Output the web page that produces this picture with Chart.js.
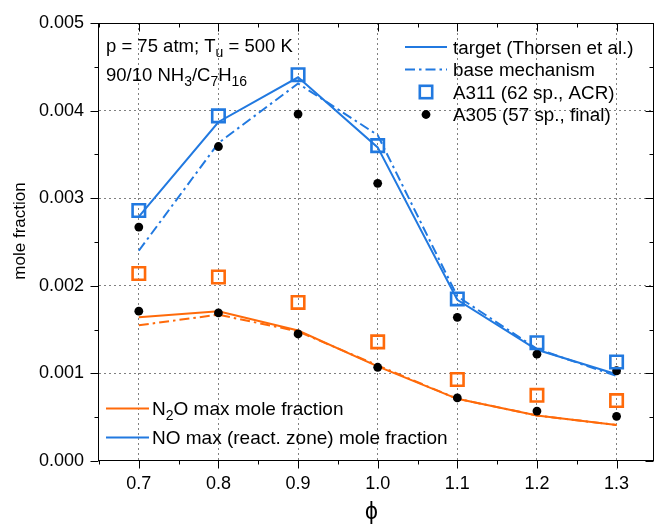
<!DOCTYPE html>
<html>
<head>
<meta charset="utf-8">
<script src="https://cdn.jsdelivr.net/npm/chart.js@4.4.1/dist/chart.umd.min.js"></script>
<style>
  html, body { margin: 0; padding: 0; background: #fff; }
  #wrap { width: 655px; height: 524px; }
</style>
</head>
<body>
<div id="wrap"><canvas id="c" width="655" height="524"></canvas></div>
<script>
// Equivalence ratio
const phi = [0.7, 0.8, 0.9, 1.0, 1.1, 1.2, 1.3];

// NO max (reaction zone) mole fraction
const noTarget = [0.00279, 0.00387, 0.00438, 0.00358, 0.00184, 0.00127, 0.00099];
const noBase   = [0.00240, 0.00363, 0.00431, 0.00372, 0.00188, 0.00128, 0.00097];
const noA311   = [0.00286, 0.00394, 0.00441, 0.00360, 0.00185, 0.00135, 0.00113];
const noA305   = [0.00267, 0.00359, 0.00396, 0.00317, 0.00164, 0.00122, 0.00103];

// N2O max mole fraction
const n2oTarget = [0.00164, 0.00171, 0.00149, 0.00108, 0.00071, 0.00052, 0.00041];
const n2oBase   = [0.00155, 0.00167, 0.00148, 0.00109, 0.00071, 0.00052, 0.00041];
const n2oA311   = [0.00214, 0.00210, 0.00181, 0.00136, 0.00093, 0.00075, 0.00069];
const n2oA305   = [0.00171, 0.00169, 0.00145, 0.00107, 0.00072, 0.00057, 0.00051];

// Axis ticks (major ticks carry labels, minor ticks sit halfway between)
const xTickValues = [0.65, 0.7, 0.75, 0.8, 0.85, 0.9, 0.95, 1.0, 1.05, 1.1, 1.15, 1.2, 1.25, 1.3];
const xTickLabels = ['0.7', '0.8', '0.9', '1.0', '1.1', '1.2', '1.3'];
const yTickValues = [0, 0.0005, 0.001, 0.0015, 0.002, 0.0025, 0.003, 0.0035, 0.004, 0.0045, 0.005];
const yTickLabels = ['0.000', '0.001', '0.002', '0.003', '0.004', '0.005'];

const BLUE = '#2179e0';
const ORANGE = '#ff6a0a';
const FONT = "'Liberation Sans', Arial, sans-serif";
const DASHDOT = [10, 4, 2.5, 4];
const PLOT_RIGHT = 654;

const pts = ys => phi.map((x, i) => ({ x, y: ys[i] }));
const isMajorX = v => Math.abs(v * 10 - Math.round(v * 10)) < 1e-6;
const isMajorY = v => Math.abs(v * 1000 - Math.round(v * 1000)) < 1e-6;
const xLabelFor = v => { const i = xTickLabels.indexOf(v.toFixed(1)); return isMajorX(v) && i >= 0 ? xTickLabels[i] : ''; };
const yLabelFor = v => { const i = yTickLabels.indexOf(v.toFixed(3)); return isMajorY(v) && i >= 0 ? yTickLabels[i] : ''; };

const lineDs = (data, color, dash) => ({
  data: pts(data), showLine: true, borderColor: color, borderWidth: 2,
  borderDash: dash, pointRadius: 0, pointHoverRadius: 0, fill: false, tension: 0
});
const squareDs = (data, color) => ({
  data: pts(data), showLine: false, pointStyle: 'rect', pointRadius: 8.8,
  pointBorderWidth: 2.6, pointBorderColor: color, pointBackgroundColor: 'rgba(0,0,0,0)'
});
const dotDs = data => ({
  data: pts(data), showLine: false, pointStyle: 'circle', pointRadius: 4.4,
  pointBorderWidth: 0, pointBackgroundColor: '#000', pointBorderColor: '#000'
});

// Text with subscripts: parts = [[text, isSub], ...]
function richText(ctx, parts, x, baseline, size, subSize, subDrop) {
  let cx = x;
  ctx.textAlign = 'left';
  ctx.textBaseline = 'alphabetic';
  for (const [t, sub] of parts) {
    ctx.font = (sub ? subSize : size) + 'px ' + FONT;
    ctx.fillText(t, cx, baseline + (sub ? subDrop : 0));
    cx += ctx.measureText(t).width;
  }
}

// Stretch the plot area out to the right edge of the canvas
const widen = {
  id: 'widen',
  afterLayout(chart) {
    const a = chart.chartArea, xs = chart.scales.x;
    a.right = PLOT_RIGHT;
    a.width = a.right - a.left;
    xs.right = PLOT_RIGHT;
    xs.width = xs.right - xs.left;
    xs.configure();
  }
};

const decor = {
  id: 'decor',
  afterDraw(chart) {
    const { ctx, chartArea: a, scales } = chart;
    const xs = scales.x, ys = scales.y;
    ctx.save();
    ctx.fillStyle = '#000';
    ctx.strokeStyle = '#000';
    ctx.lineWidth = 1;
    ctx.setLineDash([]);

    // frame
    const L = Math.round(a.left) - 0.5, R = Math.round(a.right) - 0.5;
    const T = Math.round(a.top) + 0.5, B = Math.round(a.bottom) - 0.5;
    ctx.strokeRect(L, T, R - L, B - T);

    // ticks: outward on left/bottom, inward on right/top
    ctx.beginPath();
    for (const v of yTickValues) {
      const y = Math.round(ys.getPixelForValue(v)) + 0.5;
      const len = isMajorY(v) ? 8 : 4;
      ctx.moveTo(L - len, y); ctx.lineTo(L, y);
      ctx.moveTo(R - len, y); ctx.lineTo(R, y);
    }
    for (const v of xTickValues) {
      const x = Math.round(xs.getPixelForValue(v)) + 0.5;
      const len = isMajorX(v) ? 8 : 4;
      ctx.moveTo(x, B); ctx.lineTo(x, B + len);
      ctx.moveTo(x, T); ctx.lineTo(x, T + len);
    }
    ctx.stroke();

    // axis titles
    ctx.font = '17px ' + FONT;
    ctx.textAlign = 'center';
    ctx.textBaseline = 'middle';
    ctx.save();
    ctx.translate(20, 231);
    ctx.rotate(-Math.PI / 2);
    ctx.fillText('mole fraction', 0, 0);
    ctx.restore();
    ctx.font = '23px ' + FONT;
    ctx.fillText('\u03D5', 371.5, 513);

    // conditions
    richText(ctx, [['p = 75 atm; T', false], ['u', true], [' = 500 K', false]], 106, 52, 18.5, 14, 5);
    richText(ctx, [['90/10 NH', false], ['3', true], ['/C', false], ['7', true], ['H', false], ['16', true]], 106, 80.5, 18.5, 14, 5);

    // mechanism legend (upper right)
    const rows = [47, 69.5, 92, 114.5];
    ctx.strokeStyle = BLUE;
    ctx.lineWidth = 2;
    ctx.beginPath(); ctx.moveTo(405, rows[0]); ctx.lineTo(447, rows[0]); ctx.stroke();
    ctx.setLineDash(DASHDOT);
    ctx.beginPath(); ctx.moveTo(405, rows[1]); ctx.lineTo(447, rows[1]); ctx.stroke();
    ctx.setLineDash([]);
    ctx.lineWidth = 2.6;
    ctx.strokeRect(426 - 6.2, rows[2] - 6.2, 12.4, 12.4);
    ctx.beginPath(); ctx.arc(426, rows[3], 4.4, 0, Math.PI * 2); ctx.fill();
    ctx.fillStyle = '#000';
    const names = ['target (Thorsen et al.)', 'base mechanism', 'A311 (62 sp., ACR)', 'A305 (57 sp., final)'];
    names.forEach((n, i) => richText(ctx, [[n, false]], 453, rows[i] + 6.7, 18.8, 14, 5));

    // species legend (lower left)
    const rows2 = [408.5, 437.5];
    ctx.lineWidth = 2;
    ctx.strokeStyle = ORANGE;
    ctx.beginPath(); ctx.moveTo(106, rows2[0]); ctx.lineTo(149, rows2[0]); ctx.stroke();
    ctx.strokeStyle = BLUE;
    ctx.beginPath(); ctx.moveTo(106, rows2[1]); ctx.lineTo(149, rows2[1]); ctx.stroke();
    richText(ctx, [['N', false], ['2', true], ['O max mole fraction', false]], 152, rows2[0] + 6.8, 19, 14, 5);
    richText(ctx, [['NO max (react. zone) mole fraction', false]], 152, rows2[1] + 6.8, 19, 14, 5);

    ctx.restore();
  }
};

new Chart(document.getElementById('c'), {
  type: 'scatter',
  data: {
    datasets: [
      squareDs(noA311, BLUE),
      squareDs(n2oA311, ORANGE),
      dotDs(noA305),
      dotDs(n2oA305),
      lineDs(noBase, BLUE, DASHDOT),
      lineDs(n2oBase, ORANGE, DASHDOT),
      lineDs(noTarget, BLUE, []),
      lineDs(n2oTarget, ORANGE, [])
    ]
  },
  options: {
    responsive: false,
    animation: false,
    devicePixelRatio: 1,
    layout: { padding: { top: 23, right: 1, left: 0, bottom: 0 } },
    plugins: { legend: { display: false }, tooltip: { enabled: false } },
    scales: {
      x: {
        type: 'linear', min: 0.65, max: 1.347,
        afterBuildTicks: s => { s.ticks = xTickValues.map(v => ({ value: v })); },
        afterFit: s => { s.height = 63; s.paddingLeft = 0; s.paddingRight = 0; },
        ticks: {
          callback: v => xLabelFor(v), autoSkip: false, maxRotation: 0,
          color: '#000', font: { family: FONT, size: 18 }, padding: 12
        },
        grid: {
          drawTicks: false, lineWidth: 1,
          color: c => (c.tick && isMajorX(c.tick.value)) ? '#808080' : 'rgba(0,0,0,0)'
        },
        border: { display: false, dash: [2, 3] }
      },
      y: {
        type: 'linear', min: 0, max: 0.005,
        afterBuildTicks: s => { s.ticks = yTickValues.map(v => ({ value: v })); },
        afterFit: s => { s.width = 99; s.paddingTop = 0; s.paddingBottom = 0; },
        ticks: {
          callback: v => yLabelFor(v), autoSkip: false,
          color: '#000', font: { family: FONT, size: 18 }, padding: 15
        },
        grid: {
          drawTicks: false, lineWidth: 1,
          color: c => (c.tick && isMajorY(c.tick.value) && c.tick.value > 0 && c.tick.value < 0.005) ? '#808080' : 'rgba(0,0,0,0)'
        },
        border: { display: false, dash: [2, 3] }
      }
    }
  },
  plugins: [widen, decor]
});
</script>
</body>
</html>
